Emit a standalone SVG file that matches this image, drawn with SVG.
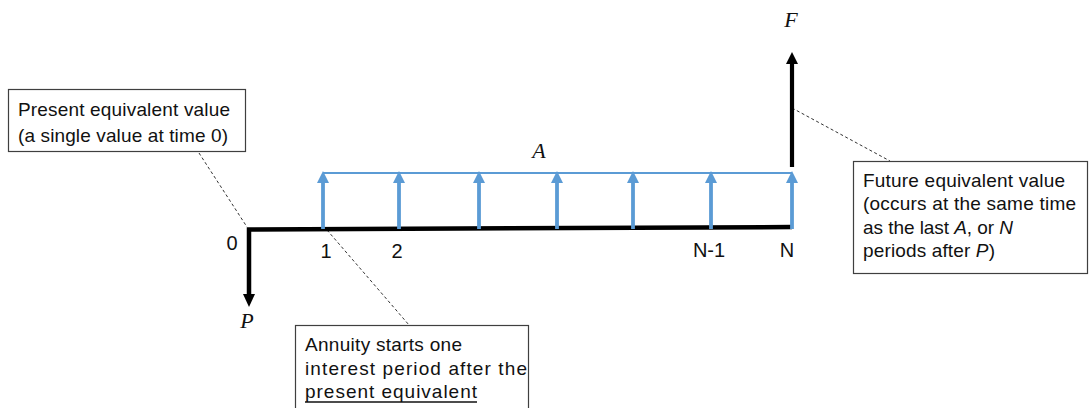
<svg xmlns="http://www.w3.org/2000/svg" width="1091" height="408" viewBox="0 0 1091 408">
  <style>
    .box { fill: #ffffff; stroke: #3f3f3f; stroke-width: 1.2; }
    .note { font-family: "Liberation Sans", Arial, sans-serif; font-size: 19px; fill: #111111; }
    .tick { font-family: "Liberation Sans", Arial, sans-serif; font-size: 20px; fill: #111111; text-anchor: middle; }
    .sym { font-family: "Liberation Serif", "Times New Roman", serif; font-style: italic; font-size: 22px; fill: #111111; text-anchor: middle; }
    .leader { fill: none; stroke: #333333; stroke-width: 1; stroke-dasharray: 3 2.5; }
    .axis { fill: none; stroke: #000000; stroke-width: 4.5; stroke-linejoin: miter; }
    .blue { stroke: #5b9bd5; stroke-width: 3.8; }
    .bluehead { fill: #5b9bd5; }
  </style>
  <defs>
    <!-- upward annuity arrow: stem from the axis to the head, tip at y=171 -->
    <g id="annuity-arrow">
      <line class="blue" x1="0" y1="229" x2="0" y2="182"/>
      <polygon class="bluehead" points="-6,183 6,183 0,171"/>
    </g>
  </defs>

  <!-- leader lines from the notes to the diagram -->
  <g id="connectors">
    <line class="leader" x1="199" y1="153" x2="247" y2="227"/>
    <line class="leader" x1="327" y1="230" x2="409" y2="325"/>
    <line class="leader" x1="792" y1="108" x2="890" y2="161"/>
  </g>

  <!-- time axis with the present value P pointing down -->
  <g id="axis">
    <path class="axis" d="M249,295 L249,229.5 L792,227"/>
    <polygon points="243,294 255,294 249,307" fill="#000000"/>
    <text class="tick" x="232" y="250">0</text>
    <text class="tick" x="326" y="258">1</text>
    <text class="tick" x="397" y="258">2</text>
    <text class="tick" x="709" y="257">N-1</text>
    <text class="tick" x="787" y="257">N</text>
    <text class="sym" x="247" y="328">P</text>
  </g>

  <!-- equal annual amounts A -->
  <g id="annuity">
    <line x1="323" y1="173" x2="792" y2="173" stroke="#5b9bd5" stroke-width="2"/>
    <use href="#annuity-arrow" x="323"/>
    <use href="#annuity-arrow" x="399"/>
    <use href="#annuity-arrow" x="479"/>
    <use href="#annuity-arrow" x="557"/>
    <use href="#annuity-arrow" x="633"/>
    <use href="#annuity-arrow" x="711"/>
    <use href="#annuity-arrow" x="792"/>
    <text class="sym" x="539" y="158">A</text>
  </g>

  <!-- future value F pointing up -->
  <g id="future">
    <line x1="792" y1="167" x2="792" y2="62" stroke="#000000" stroke-width="4.2"/>
    <polygon points="786,64 798,64 792,52" fill="#000000"/>
    <text class="sym" x="791" y="27">F</text>
  </g>

  <g id="note-present">
    <rect class="box" x="8.5" y="89.5" width="237" height="62"/>
    <text class="note" x="18" y="116" textLength="212" lengthAdjust="spacing">Present equivalent value</text>
    <text class="note" x="18" y="142" textLength="210" lengthAdjust="spacing">(a single value at time 0)</text>
  </g>

  <g id="note-annuity">
    <rect class="box" x="295.5" y="325.5" width="233" height="90"/>
    <text class="note" x="305" y="351" textLength="157" lengthAdjust="spacing">Annuity starts one</text>
    <text class="note" x="305" y="375" textLength="222" lengthAdjust="spacing">interest period after the</text>
    <text class="note" x="305" y="398" textLength="172" lengthAdjust="spacing">present equivalent</text>
    <!-- solid underline beneath the last line -->
    <line x1="305" y1="402" x2="477" y2="402" stroke="#111111" stroke-width="1.3"/>
  </g>

  <g id="note-future">
    <rect class="box" x="853.5" y="161.5" width="234" height="112"/>
    <text class="note" x="863" y="187" textLength="202" lengthAdjust="spacing">Future equivalent value</text>
    <text class="note" x="863" y="210" textLength="213" lengthAdjust="spacing">(occurs at the same time</text>
    <text class="note" x="863" y="234" textLength="150" lengthAdjust="spacing">as the last <tspan font-style="italic">A</tspan>, or <tspan font-style="italic">N</tspan></text>
    <text class="note" x="863" y="257" textLength="132" lengthAdjust="spacing">periods after <tspan font-style="italic">P</tspan>)</text>
  </g>
</svg>
